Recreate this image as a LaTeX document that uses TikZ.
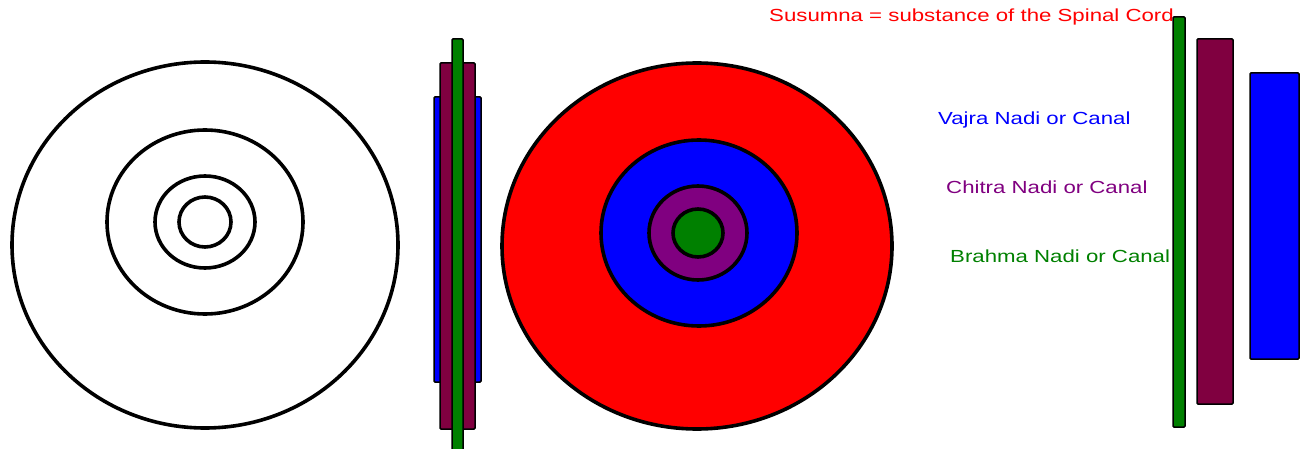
\documentclass[tikz,border=0pt]{standalone}
\usepackage{fontspec}
\newfontfamily\pixfont[FakeStretch=1.27]{Liberation Sans}
\usetikzlibrary{positioning}

\definecolor{nadired}{RGB}{255,0,0}
\definecolor{nadiblue}{RGB}{0,0,255}
\definecolor{nadipurple}{RGB}{128,0,128}
\definecolor{nadigreen}{RGB}{0,128,0}
\definecolor{nadimaroon}{RGB}{128,0,64}

\begin{document}
\begin{tikzpicture}[x=1pt,y=-1pt,
  % Shape Styles
  ring/.style={draw=black, line width=3.6pt},
  bar/.style={draw=black, line width=1.5pt, rounded corners=1pt},
  % Text Styles
  label/.style={anchor=base west, inner sep=0pt, font=\pixfont\fontsize{17.5}{20}\selectfont},
]
\useasboundingbox (0,0) rectangle (1306,449);

% Plain cross section
\draw[ring] (205,245) ellipse (193 and 183);
\draw[ring] (205,222) ellipse (98 and 92);
\draw[ring] (205,222) ellipse (50 and 46);
\draw[ring] (205,222) ellipse (26 and 25);

% Side view, middle
\draw[bar, fill=nadiblue] (434,97) rectangle (481,382);
\draw[bar, fill=nadimaroon] (440,63) rectangle (475,429);
\draw[bar, fill=nadigreen] (452,39) rectangle (463,452);

% Coloured cross section
\draw[ring, fill=nadired] (697,246) ellipse (195 and 183);
\draw[ring, fill=nadiblue] (699,233) ellipse (98 and 93);
\draw[ring, fill=nadipurple] (698,233) ellipse (49 and 47);
\draw[ring, fill=nadigreen] (698,233) ellipse (25 and 24);

% Labels
\node[label, text=nadired] (susumna) at (769,22) {Susumna = substance of the Spinal Cord};
\node[label, text=nadiblue] (vajra) at (938,125) {Vajra Nadi or Canal};
\node[label, text=nadipurple] (chitra) at (946,194) {Chitra Nadi or Canal};
\node[label, text=nadigreen] (brahma) at (950,262) {Brahma Nadi or Canal};

% Separate canals, right
\draw[bar, fill=nadigreen] (1173,17) rectangle (1185,427);
\draw[bar, fill=nadimaroon] (1197,39) rectangle (1233,404);
\draw[bar, fill=nadiblue] (1250,73) rectangle (1299,359);

\end{tikzpicture}
\end{document}
